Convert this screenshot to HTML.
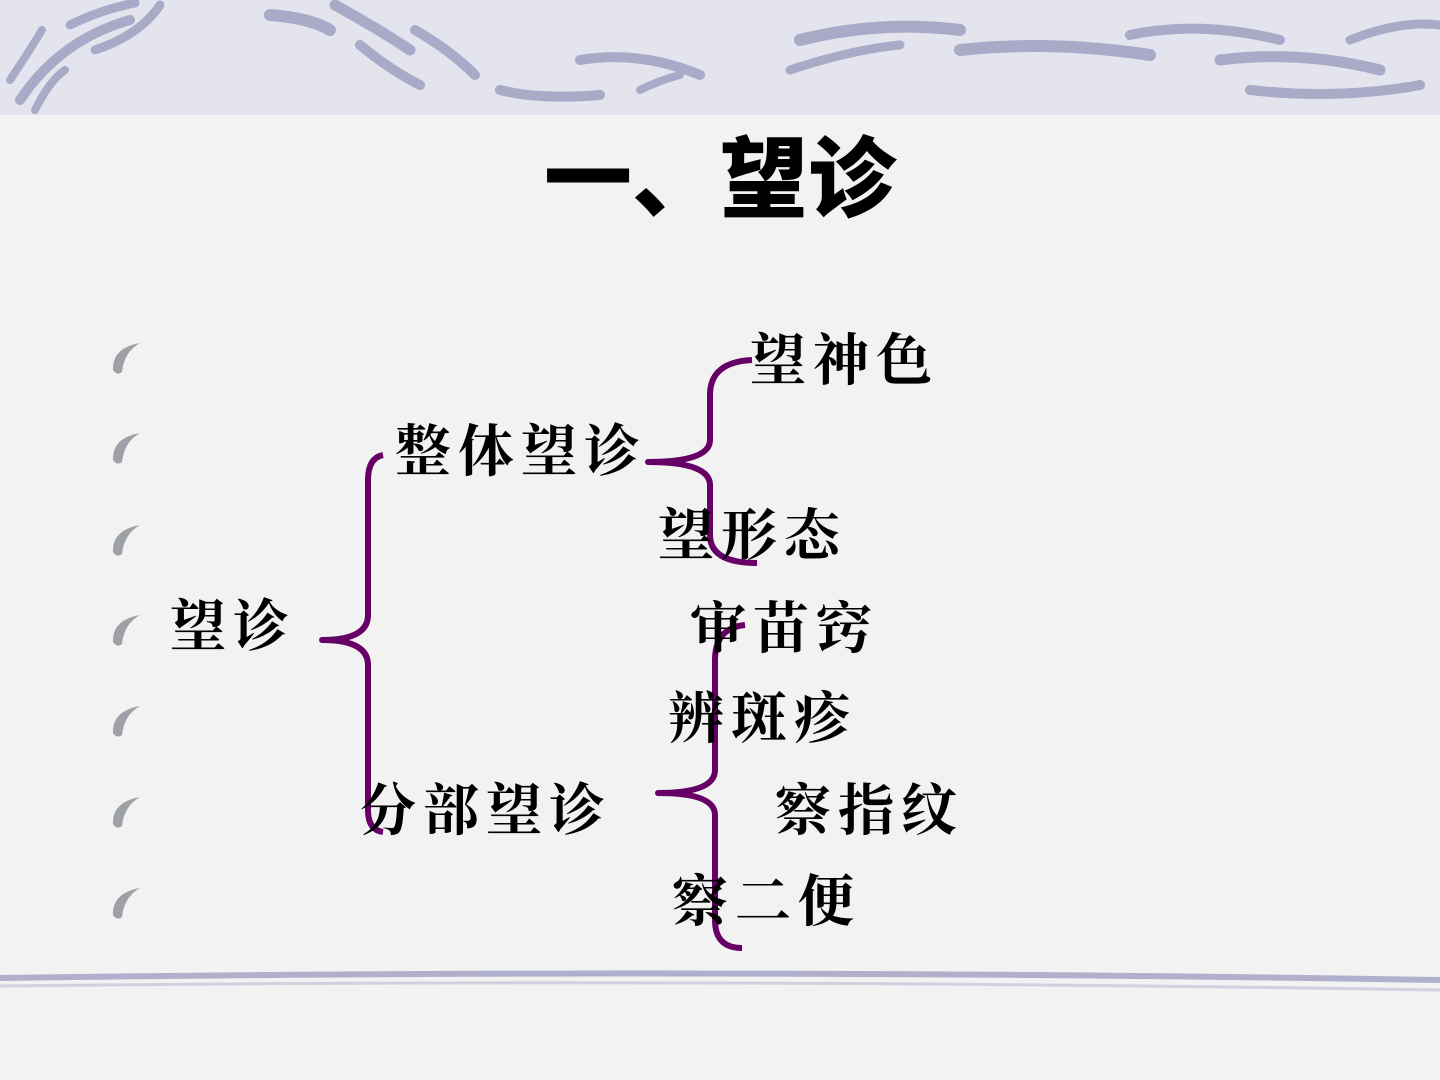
<!DOCTYPE html>
<html><head><meta charset="utf-8"><style>
body{margin:0;width:1440px;height:1080px;overflow:hidden;background:#f2f2f2;position:relative;font-family:"Liberation Serif","Noto Serif CJK SC",serif}
.t{position:absolute;font-weight:bold;font-size:56px;letter-spacing:7px;line-height:60px;color:#000;white-space:nowrap}
</style></head><body>
<svg width="1440" height="1080" style="position:absolute;left:0;top:0">
<rect x="0" y="0" width="1440" height="115" fill="#e4e4ee"/>
<g stroke="#a9a9c8" stroke-linecap="round" fill="none">
<path d="M20 100 Q60 40 130 20" stroke-width="10"/>
<path d="M10 80 Q30 50 42 30" stroke-width="8"/>
<path d="M35 110 Q50 80 65 70" stroke-width="8"/>
<path d="M70 25 Q100 10 135 3" stroke-width="9"/>
<path d="M95 50 Q140 35 160 5" stroke-width="9"/>
<path d="M270 15 Q310 18 330 30" stroke-width="12"/>
<path d="M335 5 Q380 30 410 50" stroke-width="11"/>
<path d="M360 45 Q390 70 420 85" stroke-width="10"/>
<path d="M415 30 Q450 50 475 75" stroke-width="10"/>
<path d="M500 90 Q540 100 600 95" stroke-width="10"/>
<path d="M580 60 Q640 50 700 75" stroke-width="10"/>
<path d="M640 90 Q660 80 680 75" stroke-width="8"/>
<path d="M800 40 Q880 20 960 30" stroke-width="12"/>
<path d="M790 70 Q850 50 900 45" stroke-width="9"/>
<path d="M960 50 Q1050 40 1150 55" stroke-width="12"/>
<path d="M1130 35 Q1200 20 1280 40" stroke-width="10"/>
<path d="M1220 60 Q1300 50 1380 70" stroke-width="11"/>
<path d="M1250 90 Q1340 100 1420 85" stroke-width="10"/>
<path d="M1350 40 Q1400 20 1440 25" stroke-width="9"/>
</g>
<path d="M0 978 Q700 968 1440 980" stroke="#b0b0cc" stroke-width="6" fill="none"/>
<path d="M0 986 Q700 978 1440 990" stroke="#d0d0e0" stroke-width="3" fill="none"/>
<g stroke="#660066" stroke-width="6" fill="none" stroke-linejoin="round">
<path d="M383 455 Q368 458 368 480 L368 615 Q368 640 322 640 Q368 640 368 665 L368 810 Q368 830 383 832"/>
<path d="M752 360 Q710 362 710 395 L710 440 Q710 462 648 462 Q710 462 710 485 L710 535 Q710 563 757 563"/>
<path d="M745 625 Q715 628 715 660 L715 770 Q715 793 658 793 Q715 793 715 815 L715 920 Q715 948 742 948"/>
</g>
<g fill="#9ea0a8">
<path d="M113 370 Q112 348 140 343 Q124 352 122 372 Q117 376 113 370Z"/>
<path d="M113 460 Q112 438 140 433 Q124 442 122 462 Q117 466 113 460Z"/>
<path d="M113 552 Q112 530 140 525 Q124 534 122 554 Q117 558 113 552Z"/>
<path d="M113 642 Q112 620 140 615 Q124 624 122 644 Q117 648 113 642Z"/>
<path d="M113 733 Q112 711 140 706 Q124 715 122 735 Q117 739 113 733Z"/>
<path d="M113 824 Q112 802 140 797 Q124 806 122 826 Q117 830 113 824Z"/>
<path d="M113 915 Q112 893 140 888 Q124 897 122 917 Q117 921 113 915Z"/>
</g>
</svg>
<div style="position:absolute;left:0;width:1440px;top:130px;text-align:center;font-family:'Liberation Sans','Noto Sans CJK SC',sans-serif;font-weight:900;font-size:88px;line-height:100px">一、望诊</div>
<div class="t" style="left:750px;top:332px">望神色</div>
<div class="t" style="left:395px;top:423px">整体望诊</div>
<div class="t" style="left:658px;top:507px">望形态</div>
<div class="t" style="left:170px;top:598px">望诊</div>
<div class="t" style="left:690px;top:600px">审苗窍</div>
<div class="t" style="left:668px;top:690px">辨斑疹</div>
<div class="t" style="left:360px;top:782px">分部望诊</div>
<div class="t" style="left:775px;top:782px">察指纹</div>
<div class="t" style="left:672px;top:873px">察二便</div>
</body></html>
